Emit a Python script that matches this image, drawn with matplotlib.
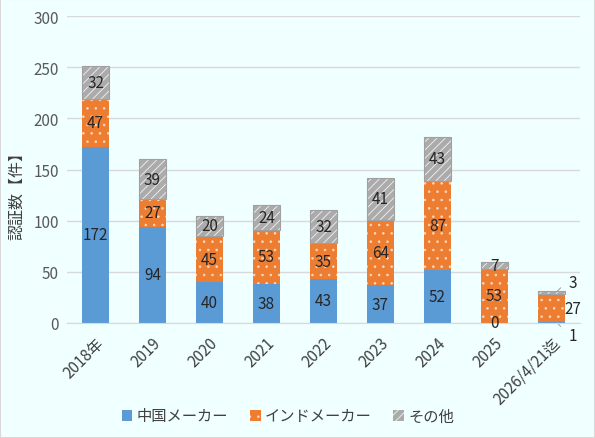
import matplotlib
matplotlib.use("Agg")
import matplotlib.pyplot as plt
import numpy as np

plt.rcParams['font.family'] = ['Noto Sans CJK JP', 'DejaVu Sans']
plt.rcParams['hatch.linewidth'] = 0.6

categories = ['2018年', '2019', '2020', '2021', '2022', '2023', '2024', '2025', '2026/4/21迄']
china = [172, 94, 40, 38, 43, 37, 52, 0, 1]
india = [47, 27, 45, 53, 35, 64, 87, 53, 27]
other = [32, 39, 20, 24, 32, 41, 43, 7, 3]
series_names = ['中国メーカー', 'インドメーカー', 'その他']
yticks = [0, 50, 100, 150, 200, 250, 300]

bg = '#F0FFFF'
fig = plt.figure(figsize=(5.95, 4.39), dpi=100, facecolor=bg)
ax = fig.add_axes([67/595, 1-324/439, 513/595, 307/439])
ax.set_facecolor(bg)

x = np.arange(len(categories))
w = 0.47
china_a = np.array(china)
india_a = np.array(india)
other_a = np.array(other)

b1 = ax.bar(x, china_a, w, color='#5B9BD5', linewidth=0, zorder=3, label=series_names[0])
b2 = ax.bar(x, india_a, w, bottom=china_a, color='#ED7D31', edgecolor='#FAD9C2',
            linewidth=0, hatch='..', zorder=3, label=series_names[1])
b3 = ax.bar(x, other_a, w, bottom=china_a+india_a, color='#ABABAB', edgecolor='#F2F2F2',
            linewidth=0, hatch='////', zorder=3, label=series_names[2])
# gray border on "other" segments
ax.bar(x, other_a, w, bottom=china_a+india_a, fill=False, edgecolor='#A0A0A0',
       linewidth=0.8, zorder=4)

ax.set_xlim(-0.5, len(categories)-0.5)
ax.set_ylim(0, 300)
ax.set_yticks(yticks)
ax.set_yticklabels([str(v) for v in yticks], fontsize=11, color='#595959')
ax.set_xticks(x)
ax.set_xticklabels(categories, rotation=45, ha='right', rotation_mode='anchor',
                   fontsize=11, color='#404040')
ax.tick_params(axis='both', length=0, pad=6)
ax.tick_params(axis='x', pad=8)
ax.grid(axis='y', color='#D9D9D9', linewidth=1, zorder=0)
for s in ['top', 'right', 'left']:
    ax.spines[s].set_visible(False)
ax.spines['bottom'].set_color('#D9D9D9')
ax.spines['bottom'].set_zorder(5)

lc = '#262626'
n = len(categories)
for i in range(n - 1):
    ax.text(x[i], china_a[i]/2, str(china[i]), ha='center', va='center', fontsize=11, color=lc, zorder=6)
    ax.text(x[i], china_a[i] + india_a[i]/2, str(india[i]), ha='center', va='center', fontsize=11, color=lc, zorder=6)
    ax.text(x[i], china_a[i] + india_a[i] + other_a[i]/2, str(other[i]), ha='center', va='center', fontsize=11, color=lc, zorder=6)

# last bar: labels placed outside with leader lines
i = n - 1
top = china_a[i] + india_a[i] + other_a[i]
ax.text(x[i] + w/2 - 0.01, china_a[i] + india_a[i]/2, str(india[i]), ha='left', va='center',
        fontsize=11, color=lc, zorder=6)
ax.annotate(str(other[i]), xy=(x[i] + 0.1, top), xytext=(x[i] + 0.37, 40),
            ha='center', va='center', fontsize=11, color=lc, annotation_clip=False,
            arrowprops=dict(arrowstyle='-', color='#A6A6A6', lw=0.8,
                            connectionstyle='angle,angleA=0,angleB=45,rad=0', shrinkA=5, shrinkB=0))
ax.annotate(str(china[i]), xy=(x[i] + 0.1, 0), xytext=(x[i] + 0.37, -12.5),
            ha='center', va='center', fontsize=11, color=lc, annotation_clip=False,
            arrowprops=dict(arrowstyle='-', color='#A6A6A6', lw=0.8,
                            connectionstyle='angle,angleA=0,angleB=-45,rad=0', shrinkA=5, shrinkB=0))

# y label
fig.text(17/595, 1-192/439, '認証数【件】', rotation=90, ha='center', va='center',
         fontsize=11.5, color='#404040')

leg = fig.legend(handles=[b1, b2, b3], labels=series_names, loc='center',
                 bbox_to_anchor=(288/595, 1-417/439), ncol=3, frameon=False,
                 fontsize=11, handlelength=0.7, handleheight=0.7, handletextpad=0.3,
                 columnspacing=1.4, labelcolor='#404040')

# outer border
fig.patches.append(plt.Rectangle((0, 0), 1, 1, transform=fig.transFigure, fill=False,
                                 edgecolor='#D9D9D9', linewidth=1.5))

fig.savefig('out.png', dpi=100, facecolor=bg)
